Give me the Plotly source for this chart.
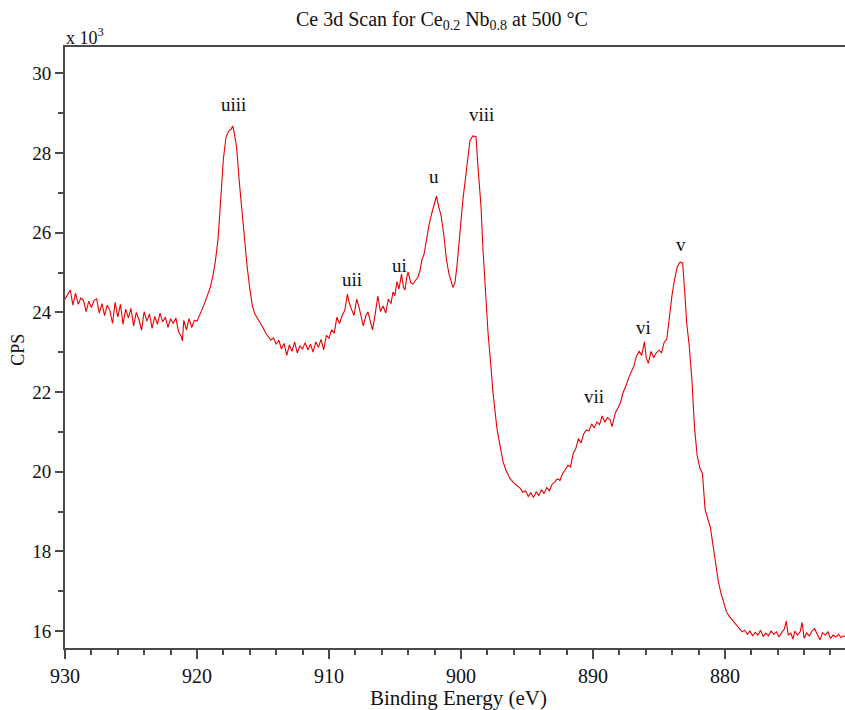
import plotly.graph_objects as go

# Binding energy (eV) and counts (x 10^3 CPS)
energy = [
    930.0, 929.8, 929.6, 929.4, 929.2, 929.0, 928.8, 928.6, 928.4, 928.2,
    928.0, 927.8, 927.6, 927.4, 927.2, 927.0, 926.8, 926.6, 926.4, 926.2,
    926.0, 925.8, 925.6, 925.4, 925.2, 925.0, 924.8, 924.6, 924.4, 924.2,
    924.0, 923.8, 923.6, 923.4, 923.2, 923.0, 922.8, 922.6, 922.4, 922.2,
    922.0, 921.8, 921.6, 921.4, 921.2, 921.1, 921.0, 920.8, 920.6, 920.4,
    920.2, 920.0, 919.8, 919.6, 919.4, 919.2, 919.0, 918.8, 918.6, 918.4,
    918.2, 918.0, 917.8, 917.6, 917.4, 917.3, 917.2, 917.0, 916.8, 916.6,
    916.4, 916.2, 916.0, 915.8, 915.6, 915.4, 915.2, 915.0, 914.8, 914.6,
    914.4, 914.2, 914.0, 913.8, 913.6, 913.4, 913.2, 913.0, 912.8, 912.6,
    912.4, 912.2, 912.0, 911.8, 911.6, 911.4, 911.2, 911.0, 910.8, 910.6,
    910.4, 910.2, 910.0, 909.8, 909.6, 909.4, 909.2, 909.0, 908.8, 908.6,
    908.5, 908.3, 908.1, 907.9, 907.7, 907.4, 907.2, 907.05, 906.9, 906.7,
    906.5, 906.3, 906.1, 905.9, 905.7, 905.5, 905.3, 905.15, 905.0, 904.85,
    904.7, 904.5, 904.35, 904.24, 904.1, 904.0, 903.8, 903.64, 903.45, 903.26,
    903.1, 902.95, 902.8, 902.6, 902.4, 902.2, 902.0, 901.85, 901.7, 901.5,
    901.3, 901.1, 900.9, 900.7, 900.6, 900.45, 900.3, 900.1, 899.85, 899.55,
    899.32, 899.1, 898.86, 898.71, 898.48, 898.33, 898.11, 897.95, 897.73, 897.58,
    897.27, 897.05, 896.82, 896.6, 896.29, 896.0, 895.76, 895.5, 895.3, 895.1,
    894.9, 894.7, 894.5, 894.3, 894.1, 893.9, 893.7, 893.5, 893.3, 893.1,
    892.9, 892.7, 892.5, 892.3, 892.1, 891.9, 891.7, 891.5, 891.3, 891.1,
    890.9, 890.7, 890.5, 890.3, 890.1, 889.9, 889.7, 889.5, 889.3, 889.1,
    888.9, 888.7, 888.55, 888.3, 888.1, 887.9, 887.7, 887.5, 887.3, 887.1,
    886.9, 886.7, 886.5, 886.3, 886.1, 885.95, 885.8, 885.6, 885.4, 885.2,
    885.0, 884.8, 884.6, 884.4, 884.2, 884.0, 883.8, 883.6, 883.4, 883.2,
    883.0, 882.9, 882.7, 882.5, 882.3, 882.1, 881.9, 881.7, 881.5, 881.3,
    881.1, 880.9, 880.7, 880.5, 880.3, 880.1, 879.9, 879.7, 879.5, 879.3,
    879.1, 878.9, 878.7, 878.5, 878.3, 878.1, 877.9, 877.7, 877.5, 877.3,
    877.1, 876.9, 876.7, 876.5, 876.3, 876.1, 875.9, 875.7, 875.5, 875.35,
    875.2, 875.0, 874.85, 874.7, 874.5, 874.3, 874.15, 874.0, 873.8, 873.6,
    873.4, 873.2, 873.0, 872.8, 872.6, 872.4, 872.2, 872.0, 871.8, 871.6,
    871.4, 871.2, 871.0, 870.9,
]
cps_k = [
    24.33, 24.45, 24.56, 24.18, 24.48, 24.20, 24.36, 24.30, 24.02, 24.28,
    24.12, 24.30, 24.34, 23.98, 24.22, 23.92, 24.18, 24.05, 23.72, 24.25,
    23.88, 24.20, 23.70, 24.08, 23.86, 24.10, 23.66, 24.00, 23.82, 23.55,
    24.02, 23.78, 23.96, 23.60, 23.90, 23.70, 23.98, 23.76, 23.88, 23.62,
    23.84, 23.72, 23.86, 23.52, 23.40, 23.28, 23.80, 23.56, 23.84, 23.62,
    23.80, 23.78, 23.92, 24.08, 24.25, 24.45, 24.62, 24.90, 25.30, 25.85,
    26.75, 27.85, 28.40, 28.55, 28.60, 28.68, 28.55, 28.15, 27.30, 26.55,
    25.80, 25.15, 24.60, 24.15, 23.95, 23.85, 23.75, 23.62, 23.48, 23.40,
    23.30, 23.36, 23.20, 23.30, 23.08, 23.22, 22.92, 23.18, 23.02, 23.26,
    22.98, 23.16, 23.08, 23.24, 23.06, 23.20, 23.00, 23.26, 23.12, 23.32,
    23.06, 23.42, 23.35, 23.56, 23.48, 23.88, 23.72, 23.92, 24.05, 24.46,
    24.28, 24.08, 23.92, 24.33, 24.10, 23.66, 23.92, 24.01, 23.78, 23.56,
    23.95, 24.41, 24.02, 24.16, 23.98, 24.33, 24.22, 24.51, 24.42, 24.78,
    24.58, 24.96, 24.62, 24.56, 24.90, 25.01, 24.74, 24.71, 24.80, 24.88,
    25.05, 25.33, 25.45, 25.85, 26.22, 26.50, 26.75, 26.92, 26.68, 26.42,
    25.95, 25.33, 24.95, 24.72, 24.62, 24.75, 25.16, 25.90, 26.83, 27.66,
    28.30, 28.43, 28.41, 27.66, 26.66, 25.58, 24.33, 23.50, 22.66, 22.01,
    21.08, 20.66, 20.26, 20.05, 19.83, 19.72, 19.66, 19.58, 19.48, 19.52,
    19.38, 19.47, 19.35, 19.50, 19.40, 19.55, 19.45, 19.60, 19.52, 19.68,
    19.74, 19.82, 19.78, 19.95, 20.05, 20.16, 20.12, 20.45, 20.58, 20.83,
    20.72, 20.95, 21.05, 21.02, 21.20, 21.10, 21.25, 21.18, 21.40, 21.24,
    21.36, 21.30, 21.13, 21.48, 21.60, 21.75, 22.00, 22.15, 22.35, 22.50,
    22.65, 22.90, 23.02, 22.92, 23.26, 22.85, 22.72, 23.02, 22.86, 22.98,
    23.05, 22.98, 23.25, 23.33, 23.98, 24.45, 24.85, 25.15, 25.26, 25.24,
    24.30, 23.75, 23.15, 22.30, 21.10, 20.40, 20.10, 19.95, 19.05, 18.85,
    18.60, 18.15, 17.70, 17.25, 16.95, 16.70, 16.50, 16.38, 16.30, 16.22,
    16.15, 16.05, 15.98, 16.02, 15.92, 16.00, 15.88, 15.97, 15.90, 16.02,
    15.86, 15.95, 15.88, 16.00, 15.92, 15.98, 15.85, 15.96, 16.05, 16.25,
    15.90, 15.95, 15.80, 16.00, 15.90, 15.98, 16.22, 15.82, 15.95, 15.88,
    16.00, 16.06, 15.92, 15.78, 15.96, 15.90, 15.98, 15.82, 15.90, 15.85,
    15.92, 15.84, 15.88, 15.86,
]

# Peak labels and where they are written (eV, x10^3 CPS)
peak_names = ["uiii", "uii", "ui", "u", "viii", "vii", "vi", "v"]
peak_label_x = [917.2, 908.26, 904.62, 902.05, 898.41, 889.92, 886.14, 883.33]
peak_label_y = [29.21, 24.83, 25.18, 27.41, 28.96, 21.88, 23.63, 25.71]

x_major_ticks = [930, 920, 910, 900, 890, 880]
y_major_ticks = [16, 18, 20, 22, 24, 26, 28, 30]

SERIF = "Liberation Serif"
AXIS_COLOR = "#4a4a4a"

fig = go.Figure()
fig.add_trace(go.Scatter(
    x=energy, y=cps_k, mode="lines",
    line=dict(color="#e60000", width=1.1),
    hoverinfo="skip", showlegend=False,
))

annotations = []
for name, lx, ly in zip(peak_names, peak_label_x, peak_label_y):
    annotations.append(dict(
        x=lx, y=ly, xref="x", yref="y", text=name, showarrow=False,
        font=dict(family=SERIF, size=19, color="#111"),
        xanchor="center", yanchor="middle",
    ))

annotations += [
    dict(text="Ce 3d Scan for Ce<sub>0.2</sub> Nb<sub>0.8</sub> at 500 °C",
         xref="paper", yref="paper", x=0.4833, y=1.0449,
         xanchor="center", yanchor="middle", showarrow=False,
         font=dict(family=SERIF, size=20, color="#111")),
    dict(text="x 10<sup>3</sup>", xref="paper", yref="paper", x=-0.001, y=1.0183,
         xanchor="left", yanchor="middle", showarrow=False,
         font=dict(family=SERIF, size=18, color="#111")),
    dict(text="CPS", xref="paper", yref="paper", x=-0.0603, y=0.496,
         xanchor="center", yanchor="middle", textangle=-90, showarrow=False,
         font=dict(family=SERIF, size=18, color="#111")),
    dict(text="Binding Energy (eV)", xref="paper", yref="paper", x=0.505, y=-0.0832,
         xanchor="center", yanchor="middle", showarrow=False,
         font=dict(family=SERIF, size=21, color="#111")),
]

fig.update_layout(
    width=845, height=710,
    margin=dict(l=65, r=0, t=47, b=62),
    paper_bgcolor="white", plot_bgcolor="white",
    annotations=annotations,
    font=dict(family=SERIF, color="#111"),
    xaxis=dict(
        range=[930, 870.9], showgrid=False, zeroline=False,
        showline=True, linecolor=AXIS_COLOR, linewidth=2, mirror=True,
        ticks="outside", tickvals=x_major_ticks, ticklen=9, tickwidth=1.5,
        tickcolor=AXIS_COLOR,
        tickfont=dict(family=SERIF, size=20, color="#111"),
        minor=dict(ticks="outside", dtick=2, tick0=0, ticklen=5, tickwidth=1.5,
                   tickcolor=AXIS_COLOR, showgrid=False),
    ),
    yaxis=dict(
        range=[15.575, 30.66], showgrid=False, zeroline=False,
        showline=True, linecolor=AXIS_COLOR, linewidth=2, mirror=False,
        ticks="outside", tickvals=y_major_ticks, ticklen=8, tickwidth=1.5,
        tickcolor=AXIS_COLOR,
        tickfont=dict(family=SERIF, size=19, color="#111"),
        minor=dict(ticks="outside", dtick=1, tick0=0, ticklen=5, tickwidth=1.5,
                   tickcolor=AXIS_COLOR, showgrid=False),
    ),
)

fig.write_html("out.html")
